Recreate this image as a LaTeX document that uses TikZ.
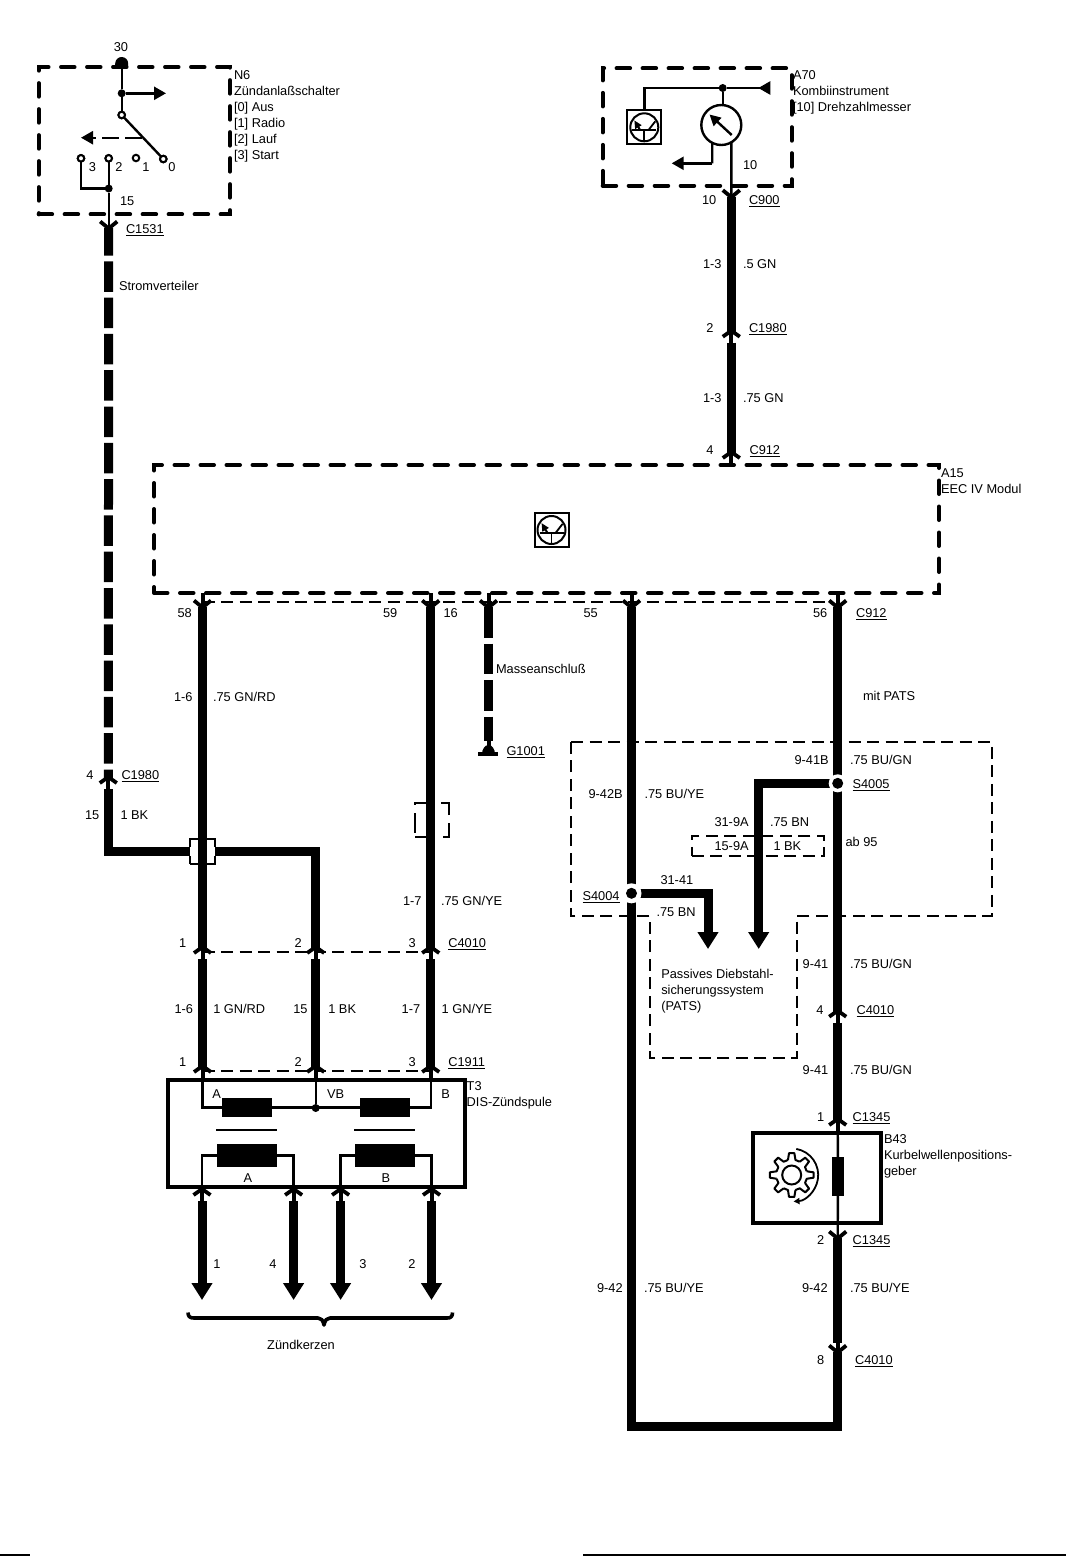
\documentclass[tikz,border=0pt]{standalone}
\usepackage{fontspec}
\setmainfont{Liberation Sans}
\usetikzlibrary{arrows.meta}
\newcount\lblcnt
\newcommand\lb[3]{\global\advance\lblcnt by 1 \node[lbl] (t\the\lblcnt) at (#1,#2) {#3};}
\newcommand\lc[3]{\global\advance\lblcnt by 1 \node[lblc] (t\the\lblcnt) at (#1,#2) {#3};}
\newcommand\ulb[1]{\setbox0=\hbox{#1}\rlap{\rule[-3.2pt]{\wd0}{1.4pt}}\box0}
\tikzset{
  lbl/.style={anchor=base west,inner sep=0pt,outer sep=0pt,font=\fontsize{12.8}{15}\selectfont},
  lblc/.style={anchor=base,inner sep=0pt,outer sep=0pt,font=\fontsize{12.8}{15}\selectfont},
  heavy/.style={line width=9pt},
  heavydash/.style={line width=9pt,dash pattern=on 30.5pt off 5.8pt,dash phase=3pt},
  thinw/.style={line width=2.4pt},
  stubw/.style={line width=4pt},
  bigdash/.style={draw,line width=4pt,line cap=round,dash pattern=on 13.5pt off 12.5pt,inner sep=0pt,outer sep=0pt},
  thindash/.style={draw,line width=2pt,dash pattern=on 12pt off 6.5pt,inner sep=0pt,outer sep=0pt},
  solidbox/.style={draw,line width=4pt,inner sep=0pt,outer sep=0pt},
  coil/.style={fill=black,inner sep=0pt,outer sep=0pt},
  dotn/.style={circle,fill=black,inner sep=0pt,outer sep=0pt,minimum size=8pt},
  opendot/.style={circle,draw,fill=white,line width=2pt,inner sep=0pt,outer sep=0pt,minimum size=6.5pt},
  splice/.style={circle,fill=black,inner sep=0pt,outer sep=0pt,minimum size=11pt},
  bigarrow/.style={line width=9pt,-{Triangle[length=17pt,width=20pt]}},
  smallarrow/.style={line width=2.4pt,-{Triangle[length=12pt,width=13pt]}},
  pinY/.pic={
    \draw[line width=3.8pt,line join=miter] (-8.5,-6.5) -- (0,0.5) -- (8.5,-6.5);
    \coordinate (-tip) at (0,0);
  },
  pinA/.pic={
    \draw[line width=3.8pt,line join=miter] (-8.5,5) -- (0,-1) -- (8.5,5);
    \draw[line width=4pt] (0,0) -- (0,11);
    \coordinate (-tip) at (0,0);
    \coordinate (-out) at (0,11);
  },
  transsym/.pic={
    \draw[line width=2pt] (-17,-17) rectangle (17,17);
    \draw[line width=2pt] (0,0) circle (14);
    \draw[line width=1.8pt] (-12,3) -- (12,3);
    \draw[line width=1.8pt] (0,3) -- (0,14);
    \draw[line width=2pt,-{Triangle[length=8pt,width=7pt]}] (-4,3) -- (-10,-7);
    \draw[line width=1.8pt] (4,3) -- (11,-6);
  }
}
\begin{document}
\begin{tikzpicture}[x=1pt,y=-1pt]
\useasboundingbox (0,0) rectangle (1066,1556);
\fill[white] (0,0) rectangle (1066,1556);

% ---------- module boxes
\node[bigdash,minimum width=191.3pt,minimum height=147.3pt] (n6) at (134.3,140.7) {};
\node[bigdash,minimum width=189pt,minimum height=117.4pt] (a70) at (697.2,127) {};
\node[bigdash,minimum width=785pt,minimum height=128pt] (a15) at (546.5,529) {};
\node[solidbox,minimum width=296.5pt,minimum height=107.6pt] (t3) at (316.3,1133.5) {};
\node[solidbox,minimum width=128pt,minimum height=90pt] (b43) at (817,1177.7) {};

% ---------- thin dashed connector bars
\coordinate (barL) at (202.5,601.7);
\coordinate (barR) at (832,601.7);
\draw[thindash] (barL) -- (barR);
\coordinate (b40L) at (202.5,952);
\coordinate (b40R) at (431,952);
\draw[thindash] (b40L) -- (b40R);
\coordinate (b19L) at (202.5,1070.7);
\coordinate (b19R) at (431,1070.7);
\draw[thindash] (b19L) -- (b19R);

% ---------- dashed regions
\coordinate (r1) at (571,742.3);
\coordinate (r2) at (992,742.3);
\coordinate (r3) at (992,915.7);
\coordinate (r4) at (796.7,915.7);
\coordinate (r5) at (796.7,1057.7);
\coordinate (r6) at (650,1057.7);
\coordinate (r7) at (650,915.7);
\coordinate (r8) at (571,915.7);
\draw[thindash] (r1) -- (r2) -- (r3) -- (r4) -- (r5) -- (r6) -- (r7) -- (r8) -- cycle;
\node[thindash,minimum width=132.6pt,minimum height=20pt] (bx15) at (758,846) {};
\node[thindash,dash pattern=on 15pt off 9.5pt,dash phase=7.5pt,minimum width=24.5pt,minimum height=24.5pt] (x1) at (202.5,851.5) {};
\node[thindash,dash pattern=on 20pt off 8pt,minimum width=34pt,minimum height=34pt] (x2) at (432,820) {};

% ---------- ignition switch N6
\coordinate (n30) at (121.7,64);
\fill (115.2,66.5) -- (115.2,63.5) arc (180:360:6.5) -- (128.2,66.5) -- cycle;
\node[dotn] (nd1) at (121.7,93.3) {};
\node[opendot] (nsw) at (121.7,115) {};
\node[opendot] (n0) at (163.3,159) {};
\node[opendot] (n1) at (136,158) {};
\node[opendot] (n2) at (108.7,158.3) {};
\node[opendot] (n3) at (81,158.3) {};
\node[dotn] (nd2) at (108.7,188.5) {};
\coordinate (nar1) at (166,93.3);
\coordinate (ndash) at (141.7,137.7);
\coordinate (nar2m) at (92,137.7);
\coordinate (nar2) at (81,137.7);
\draw[thinw] (n30) -- (nd1) -- (nsw);
\draw[smallarrow] (nd1) -- (nar1);
\draw[thinw] (nsw) -- (n0);
\draw[thinw,dash pattern=on 17pt off 6pt] (ndash) -- (nar2m);
\draw[smallarrow] (nar2m) -- (nar2);
\draw[thinw] (n3) |- (nd2);
\draw[thinw] (n2) -- (nd2);
\pic (p1531) at (108.7,228) {pinY};
\draw[thinw] (nd2) -- (p1531-tip);
\node[opendot] at (n2) {};
\node[opendot] at (n3) {};
\node[opendot] at (nsw) {};
\node[opendot] at (n0) {};

% ---------- left feed
\pic (p1980L) at (108.3,778) {pinA};
\draw[heavydash] (p1531-tip) -- (p1980L-tip);
\coordinate (lc1) at (108.3,851.7);
\pic (p40a) at (202.5,948) {pinA};
\pic (p40b) at (315.7,948) {pinA};
\pic (p40c) at (430.7,948) {pinA};
\coordinate (lc2) at (315.7,851.7);
\draw[heavy] (p1980L-out) -- (lc1) -- (x1.west |- lc1);
\draw[heavy] (x1.east |- lc2) -- (lc2) -- (p40b-tip);

% ---------- A70
\node[dotn] (ad) at (722.7,88) {};
\pic at (644.3,127.3) {transsym};
\coordinate (atr) at (644.3,110.3);
\node[circle,draw,line width=2.4pt,minimum size=40pt,inner sep=0pt,outer sep=0pt] (meter) at (721.3,125) {};
\coordinate (aend) at (770.3,88);
\draw[thinw] (atr) |- (ad);
\draw[thinw,-{Triangle[length=12pt,width=13pt,reversed]}] (ad) -- (aend);
\draw[thinw] (ad) -- (meter.north -| ad);
\coordinate (nd1a) at (731.7,135);
\coordinate (nd2a) at (709.5,114.5);
\draw[line width=2.4pt,-{Triangle[length=11pt,width=11pt]}] (nd1a) -- (nd2a);
\coordinate (mleft) at (671.7,163.3);
\coordinate (mcorn) at (712.2,163.3);
\draw[thinw] (meter.-117) -- (mcorn);
\draw[smallarrow] (mcorn) -- (mleft);
\pic (p900) at (731.3,196.7) {pinY};
\draw[thinw] (meter.-60) -- (p900-tip);
\pic (p1980R) at (731.3,331.7) {pinA};
\draw[heavy] (p900-tip) -- (p1980R-tip);
\pic (p912t) at (731.3,453) {pinA};
\draw[heavy] (p1980R-out) -- (p912t-tip);

% ---------- A15
\pic at (551.5,530) {transsym};
\pic (p58) at (202.5,607) {pinY};
\pic (p59) at (430.7,607) {pinY};
\pic (p16) at (488.5,607) {pinY};
\pic (p55) at (631.5,607) {pinY};
\pic (p56) at (837.7,607) {pinY};
\foreach \p in {p58,p59,p16,p55,p56}{
  \draw[stubw] (\p-tip |- a15.south) -- (\p-tip);
}
\draw[heavy] (p58-tip) -- (p40a-tip);
\draw[heavy] (p59-tip) -- (p40c-tip);

% ground
\coordinate (gnd1) at (488.5,741);
\coordinate (gnd) at (488.5,746);
\draw[line width=9pt,dash pattern=on 30.5pt off 6pt] (p16-tip) -- (gnd1);
\draw[stubw] (gnd1) -- (gnd);
\fill (482,754) .. controls (482,749) and (485,745) .. (488.5,745) .. controls (492,745) and (495,749) .. (495,754) -- cycle;
\fill (478,751.5) rectangle (498,755.5);

% ---------- C4010 / C1911 row
\pic (p19a) at (202.5,1067) {pinA};
\pic (p19b) at (315.7,1067) {pinA};
\pic (p19c) at (430.7,1067) {pinA};
\draw[heavy] (p40a-out) -- (p19a-tip);
\draw[heavy] (p40b-out) -- (p19b-tip);
\draw[heavy] (p40c-out) -- (p19c-tip);

% ---------- T3 coil
\node[coil,minimum width=50pt,minimum height=19pt] (pa) at (247,1107.5) {};
\node[coil,minimum width=50pt,minimum height=19pt] (pb) at (385,1107.5) {};
\node[dotn] (vb) at (315.7,1108) {};
\node[coil,minimum width=60.5pt,minimum height=2.8pt] (ca) at (246.5,1130) {};
\node[coil,minimum width=60.5pt,minimum height=2.8pt] (cb) at (384.5,1130) {};
\node[coil,minimum width=60pt,minimum height=23pt] (sa) at (247,1155.5) {};
\node[coil,minimum width=60pt,minimum height=23pt] (sb) at (385,1155.5) {};
\draw[thinw] (p19a-tip) |- (pa.west);
\draw[thinw] (pa.east) -- (pb.west);
\draw[thinw] (pb.east) -| (p19c-tip);
\draw[thinw] (p19b-tip) -- (vb);
\pic (k1) at (202,1190) {pinA};
\pic (k4) at (293.6,1190) {pinA};
\pic (k3) at (340.6,1190) {pinA};
\pic (k2) at (431.5,1190) {pinA};
\draw[thinw] (sa.west) -| (k1-tip);
\draw[thinw] (sa.east) -| (k4-tip);
\draw[thinw] (sb.west) -| (k3-tip);
\draw[thinw] (sb.east) -| (k2-tip);
\coordinate (k1e) at (202,1300);
\coordinate (k4e) at (293.6,1300);
\coordinate (k3e) at (340.6,1300);
\coordinate (k2e) at (431.5,1300);
\draw[bigarrow] (k1-out) -- (k1e);
\draw[bigarrow] (k4-out) -- (k4e);
\draw[bigarrow] (k3-out) -- (k3e);
\draw[bigarrow] (k2-out) -- (k2e);

% brace
\draw[line width=3.6pt,line join=round] (188,1312.5) .. controls (188,1316.5) and (190,1318) .. (194,1318) -- (318,1318) .. controls (321,1318) and (323,1320) .. (324,1325) .. controls (325,1320) and (327,1318) .. (330,1318) -- (447,1318) .. controls (451,1318) and (452.5,1316.5) .. (452.5,1312.5);

% ---------- right side wires
\coordinate (hs5) at (837.7,783.3);
\coordinate (hs4) at (631.5,893.3);
\coordinate (c5a) at (758.7,783.3);
\coordinate (c5b) at (758.7,949);
\coordinate (c4a) at (708,893.3);
\coordinate (c4b) at (708,949);
\pic (p40r) at (837.7,1011.7) {pinA};
\pic (p45a) at (837.7,1120) {pinA};
\pic (p45b) at (837.7,1238) {pinY};
\pic (p40s) at (837.7,1352) {pinY};
\coordinate (bc1) at (631.5,1426.7);
\coordinate (bc2) at (837.7,1426.7);
\coordinate (s45e) at (837.7,1343);
\draw[heavy] (p55-tip) -- (bc1) -- (bc2) -- (p40s-tip);
\draw[heavy] (p56-tip) -- (p40r-tip);
\draw[bigarrow] (hs5) -- (c5a) -- (c5b);
\draw[bigarrow] (hs4) -- (c4a) -- (c4b);
\node[circle,fill=white,inner sep=0pt,minimum size=18pt] (h5) at (hs5) {};
\node[circle,fill=white,inner sep=0pt,minimum size=20pt] (h4) at (hs4) {};
\node[splice] (s5) at (hs5) {};
\node[splice] (s4) at (hs4) {};
\draw[heavy] (p40r-out) -- (p45a-tip);
\draw[heavy] (p45b-tip) -- (s45e);
\draw[stubw] (s45e) -- (p40s-tip);

% ---------- B43
\node[coil,minimum width=12pt,minimum height=38.5pt] (res) at (838,1176.5) {};
\draw[thinw] (p45a-tip) -- (res);
\draw[thinw] (res) -- (p45b-tip);
\coordinate (gc) at (791.7,1175);
\begin{scope}[shift={(gc)}]
\draw[line width=2pt] (0,0) circle (9.5);
\foreach \a in {0,45,...,315}{
  \draw[line width=2pt,line join=round] (\a-14:15.5) -- (\a-7:22) -- (\a+7:22) -- (\a+14:15.5) -- (\a+31:15.5);
}
\draw[line width=1.8pt,-{Triangle[length=6pt,width=6pt]}] (-80:26.5) arc (-80:86:26.5);
\end{scope}

% ---------- page rules
\coordinate (pl1) at (0,1555);
\coordinate (pl2) at (30,1555);
\coordinate (pl3) at (583,1555);
\coordinate (pl4) at (1066,1555);
\draw[line width=1.5pt] (pl1) -- (pl2);
\draw[line width=1.5pt] (pl3) -- (pl4);

% ---------- labels
\lc{121}{51}{30}
\lb{234}{79}{N6}
\lb{234}{95}{Zündanlaßschalter}
\lb{234}{111}{[0] Aus}
\lb{234}{127}{[1] Radio}
\lb{234}{143}{[2] Lauf}
\lb{234}{159}{[3] Start}
\lc{92.5}{171}{3}
\lc{119}{171}{2}
\lc{146}{171}{1}
\lc{172}{171}{0}
\lb{120}{205}{15}
\lb{126}{233}{\ulb{C1531}}
\lb{119}{290}{Stromverteiler}
\lb{793}{79}{A70}
\lb{793}{95.5}{Kombiinstrument}
\lb{793}{111.5}{[10] Drehzahlmesser}
\lb{743}{169}{10}
\lb{702}{204}{10}
\lb{749}{204}{\ulb{C900}}
\lb{703}{268}{1-3}
\lb{743}{268}{.5 GN}
\lc{710}{332}{2}
\lb{749}{332}{\ulb{C1980}}
\lb{703}{402}{1-3}
\lb{743}{402}{.75 GN}
\lc{710}{454}{4}
\lb{749.5}{454}{\ulb{C912}}
\lb{941}{477}{A15}
\lb{941}{493}{EEC IV Modul}
\lb{177.5}{617}{58}
\lb{383}{617}{59}
\lb{443.5}{617}{16}
\lb{583.5}{617}{55}
\lb{813}{617}{56}
\lb{856}{617}{\ulb{C912}}
\lb{174}{701}{1-6}
\lb{213}{701}{.75 GN/RD}
\lb{496}{673}{Masseanschluß}
\lb{863}{700}{mit PATS}
\lb{506.5}{755}{\ulb{G1001}}
\lc{90}{779}{4}
\lb{121.5}{779}{\ulb{C1980}}
\lb{85}{819}{15}
\lb{120.5}{819}{1 BK}
\lb{794.5}{764}{9-41B}
\lb{850}{764}{.75 BU/GN}
\lb{852.5}{788}{\ulb{S4005}}
\lb{588.5}{798}{9-42B}
\lb{644.5}{798}{.75 BU/YE}
\lb{714.5}{826}{31-9A}
\lb{770}{826}{.75 BN}
\lb{714.5}{850}{15-9A}
\lb{773.5}{850}{1 BK}
\lb{845.5}{846}{ab 95}
\lb{660.5}{884}{31-41}
\lb{582.5}{900}{\ulb{S4004}}
\lb{656.5}{916}{.75 BN}
\lb{403}{905}{1-7}
\lb{441}{905}{.75 GN/YE}
\lc{182.7}{947}{1}
\lc{298.3}{947}{2}
\lc{412.3}{947}{3}
\lb{448.3}{947}{\ulb{C4010}}
\lb{174.5}{1013}{1-6}
\lb{213.3}{1013}{1 GN/RD}
\lb{293.3}{1013}{15}
\lb{328.3}{1013}{1 BK}
\lb{401.7}{1013}{1-7}
\lb{441.7}{1013}{1 GN/YE}
\lc{182.7}{1066}{1}
\lc{298.3}{1066}{2}
\lc{412.3}{1066}{3}
\lb{448.3}{1066}{\ulb{C1911}}
\lb{466.7}{1090}{T3}
\lb{466.7}{1106}{DIS-Zündspule}
\lc{216.7}{1098.5}{A}
\lc{335.7}{1098.5}{VB}
\lc{445.7}{1098.5}{B}
\lc{248}{1182}{A}
\lc{386}{1182}{B}
\lc{217}{1268}{1}
\lc{273}{1268}{4}
\lc{363}{1268}{3}
\lc{412}{1268}{2}
\lc{301}{1349}{Zündkerzen}
\lb{802.7}{968}{9-41}
\lb{850}{968}{.75 BU/GN}
\lb{661.3}{978.5}{Passives Diebstahl-}
\lb{661.3}{994.5}{sicherungssystem}
\lb{661.3}{1010}{(PATS)}
\lc{820}{1014}{4}
\lb{856.5}{1014}{\ulb{C4010}}
\lb{802.7}{1074}{9-41}
\lb{850}{1074}{.75 BU/GN}
\lc{820.7}{1121}{1}
\lb{852.7}{1121}{\ulb{C1345}}
\lb{884}{1143}{B43}
\lb{884}{1159.5}{Kurbelwellenpositions-}
\lb{884}{1175.5}{geber}
\lc{820.7}{1244}{2}
\lb{852.7}{1244}{\ulb{C1345}}
\lb{597}{1292}{9-42}
\lb{644}{1292}{.75 BU/YE}
\lb{802}{1292}{9-42}
\lb{850}{1292}{.75 BU/YE}
\lc{820.7}{1364}{8}
\lb{855}{1364}{\ulb{C4010}}
\end{tikzpicture}
\end{document}
